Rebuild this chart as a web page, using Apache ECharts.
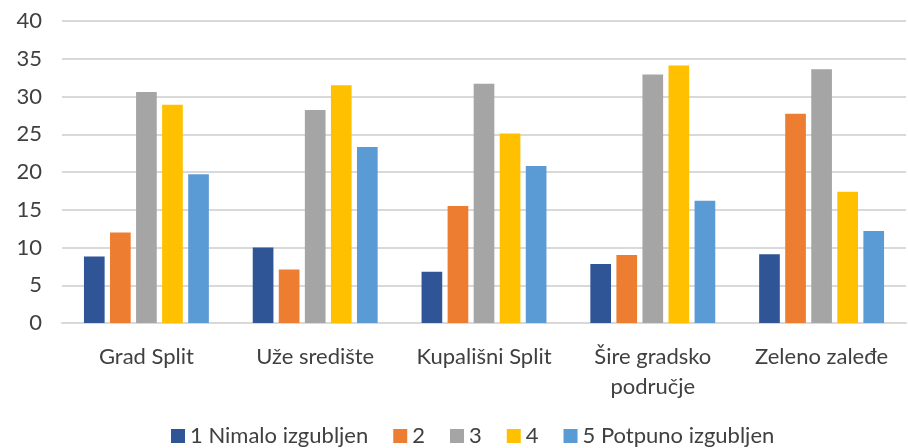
<!DOCTYPE html>
<html>
<head>
<meta charset="utf-8">
<script src="https://cdn.jsdelivr.net/npm/echarts@6/dist/echarts.min.js"></script>
<style>
  html, body { margin: 0; padding: 0; background: #fff; }
  #chart { width: 908px; height: 448px; }
</style>
</head>
<body>
<div id="chart"></div>
<script>
const categories = ["Grad Split", "Uže središte", "Kupališni Split", "Šire gradsko\npodručje", "Zeleno zaleđe"];
const seriesNames = ["1 Nimalo izgubljen", "2", "3", "4", "5 Potpuno izgubljen"];
const s1 = [8.8, 10.0, 6.8, 7.8, 9.1];
const s2 = [12.0, 7.1, 15.5, 9.0, 27.7];
const s3 = [30.6, 28.2, 31.7, 32.9, 33.6];
const s4 = [28.9, 31.5, 25.1, 34.1, 17.4];
const s5 = [19.7, 23.3, 20.8, 16.2, 12.2];
const colors = ["#2F5597", "#ED7D31", "#A5A5A5", "#FFC000", "#5B9BD5"];

const font = "Lato, sans-serif";
const myChart = echarts.init(document.getElementById("chart"));
const values = [s1, s2, s3, s4, s5];

const option = {
  animation: false,
  color: colors,
  textStyle: { fontFamily: font },
  grid: { left: 62, right: 2, top: 21, bottom: 125, containLabel: false },
  legend: {
    data: seriesNames,
    bottom: -4,
    left: 166,
    icon: "rect",
    itemWidth: 14,
    itemHeight: 14,
    itemGap: 25,
    textStyle: { fontSize: 22, color: "#404040", fontFamily: font }
  },
  xAxis: {
    type: "category",
    data: categories,
    axisLine: { show: true, lineStyle: { color: "#d9d9d9", width: 2 } },
    axisTick: { show: false },
    axisLabel: { interval: 0, fontSize: 22, color: "#404040", margin: 19, lineHeight: 30, fontFamily: font }
  },
  yAxis: {
    type: "value",
    min: 0,
    max: 40,
    interval: 5,
    axisLine: { show: false },
    axisTick: { show: false },
    splitLine: { lineStyle: { color: "#d9d9d9", width: 2 } },
    axisLabel: { fontSize: 22, color: "#404040", margin: 20, fontFamily: font }
  },
  series: seriesNames.map(function (name, i) {
    return {
      name: name,
      type: "bar",
      data: values[i],
      barGap: "26%",
      barCategoryGap: "26%",
      itemStyle: { color: colors[i] }
    };
  })
};
myChart.setOption(option);
</script>
</body>
</html>
